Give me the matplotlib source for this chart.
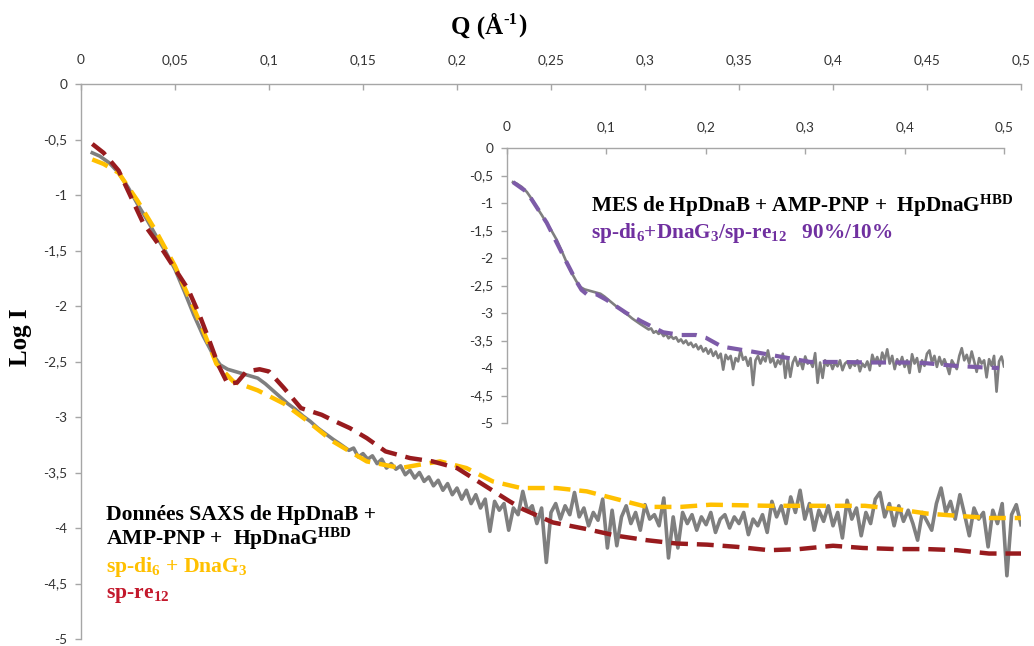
import numpy as np
import matplotlib
matplotlib.use("Agg")
import matplotlib.pyplot as plt
from matplotlib.ticker import FuncFormatter, MultipleLocator

plt.rcParams['mathtext.fontset'] = 'custom'
plt.rcParams['mathtext.rm'] = 'Liberation Serif:bold'
plt.rcParams['mathtext.bf'] = 'Liberation Serif:bold'
plt.rcParams['mathtext.it'] = 'Liberation Serif:bold:italic'

# ---------------- data ----------------
# SAXS data, smooth low-q part
q_low = [0.006, 0.010, 0.015, 0.020, 0.025, 0.030, 0.035, 0.040, 0.045, 0.050,
         0.055, 0.060, 0.065, 0.070, 0.074, 0.078, 0.082, 0.086, 0.090, 0.094,
         0.098, 0.102, 0.106, 0.110, 0.114, 0.118, 0.122, 0.126, 0.130, 0.134, 0.1375]
logI_low = [-0.62, -0.65, -0.71, -0.80, -0.93, -1.08, -1.22, -1.37, -1.51, -1.67,
            -1.87, -2.08, -2.27, -2.43, -2.53, -2.57, -2.59, -2.61, -2.63, -2.65,
            -2.70, -2.76, -2.82, -2.88, -2.93, -2.99, -3.04, -3.10, -3.15, -3.20, -3.24]
# SAXS data, noisy high-q part (q from 0.14 to 0.5, step 0.0025)
q_high_start, q_high_step = 0.14, 0.0025
logI_high = [-3.27, -3.30, -3.28, -3.36, -3.33, -3.38, -3.35, -3.42, -3.38, -3.46,
             -3.42, -3.47, -3.44, -3.52, -3.48, -3.55, -3.50, -3.58, -3.54, -3.62,
             -3.57, -3.66, -3.60, -3.70, -3.64, -3.74, -3.66, -3.78, -3.70, -3.82,
             -3.74, -4.03, -3.76, -3.84, -3.78, -4.02, -3.82, -3.88, -3.67, -3.85,
             -3.80, -3.96, -3.82, -4.31, -3.86, -3.78, -3.92, -3.80, -3.88, -3.68,
             -3.90, -3.82, -3.98, -3.86, -3.93, -3.74, -4.18, -3.84, -4.16, -3.90,
             -3.80, -3.96, -3.86, -4.02, -3.79, -3.92, -3.88, -3.98, -3.73, -4.27,
             -3.90, -4.18, -3.86, -3.96, -3.88, -4.02, -3.90, -3.97, -3.86, -4.04,
             -3.92, -3.88, -4.00, -3.90, -3.96, -3.86, -4.06, -3.92, -3.98, -3.88,
             -4.04, -3.76, -3.90, -3.80, -3.96, -3.72, -3.86, -3.66, -3.92, -3.78,
             -4.02, -3.84, -3.94, -3.80, -3.98, -3.86, -4.09, -3.75, -3.92, -3.82,
             -4.07, -3.86, -3.96, -3.74, -3.68, -3.90, -3.78, -3.98, -3.80, -3.94,
             -3.84, -3.96, -4.11, -3.86, -3.94, -4.02, -3.78, -3.64, -3.86, -3.76,
             -3.92, -3.70, -3.88, -4.07, -3.82, -3.92, -3.86, -4.17, -3.84, -3.96,
             -3.78, -4.43, -3.88, -3.79, -3.97]

# model sp-di6 + DnaG3 (yellow)
q_di6 = [0.006, 0.012, 0.020, 0.030, 0.040, 0.050, 0.060, 0.065, 0.072, 0.081,
         0.094, 0.108, 0.120, 0.134, 0.152, 0.170, 0.180, 0.191, 0.205, 0.219,
         0.234, 0.253, 0.269, 0.285, 0.301, 0.319, 0.335, 0.366, 0.400, 0.417,
         0.434, 0.450, 0.466, 0.483, 0.500]
logI_di6 = [-0.68, -0.72, -0.80, -1.05, -1.33, -1.64, -2.02, -2.22, -2.52, -2.68,
            -2.76, -2.88, -3.03, -3.22, -3.40, -3.46, -3.43, -3.40, -3.46, -3.58,
            -3.64, -3.64, -3.67, -3.74, -3.81, -3.81, -3.79, -3.80, -3.80, -3.80,
            -3.83, -3.87, -3.89, -3.91, -3.91]

# model sp-re12 (dark red)
q_re12 = [0.006, 0.012, 0.020, 0.033, 0.044, 0.057, 0.063, 0.068, 0.073, 0.078,
          0.083, 0.088, 0.095, 0.100, 0.108, 0.117, 0.128, 0.134, 0.143, 0.152,
          0.162, 0.175, 0.187, 0.200, 0.214, 0.228, 0.235, 0.251, 0.269, 0.285,
          0.301, 0.317, 0.333, 0.349, 0.366, 0.382, 0.400, 0.416, 0.434, 0.450,
          0.466, 0.483, 0.500]
logI_re12 = [-0.54, -0.62, -0.78, -1.25, -1.51, -1.85, -2.08, -2.30, -2.53, -2.70,
             -2.69, -2.59, -2.57, -2.59, -2.74, -2.92, -2.98, -3.03, -3.10, -3.19,
             -3.31, -3.37, -3.40, -3.46, -3.61, -3.76, -3.83, -3.95, -4.01, -4.07,
             -4.11, -4.14, -4.15, -4.17, -4.20, -4.19, -4.16, -4.18, -4.19, -4.19,
             -4.20, -4.23, -4.23]

# MES fit 90%/10% (purple, inset)
q_mes = [0.006, 0.020, 0.040, 0.060, 0.070, 0.075, 0.081, 0.090, 0.100, 0.120,
         0.135, 0.157, 0.175, 0.190, 0.200, 0.216, 0.246, 0.277, 0.305, 0.335,
         0.367, 0.400, 0.420, 0.450, 0.480, 0.495]
logI_mes = [-0.62, -0.80, -1.36, -2.08, -2.43, -2.58, -2.67, -2.66, -2.76, -3.00,
            -3.15, -3.35, -3.40, -3.40, -3.45, -3.61, -3.70, -3.80, -3.89, -3.89,
            -3.90, -3.90, -3.91, -3.96, -3.99, -4.00]

q_high = q_high_start + q_high_step * np.arange(len(logI_high))
q_data = np.concatenate([q_low, q_high])
logI_data = np.concatenate([logI_low, logI_high])

# ---------------- styles ----------------
GRAY = '#7F7F7F'
YEL = '#FFC000'
RED = '#981B1E'
RED_TXT = '#C3182B'
PUR_LINE = '#7D5BA8'
PUR_TXT = '#7030A0'
SPINE = '#A6A6A6'
TICKFONT = 'Lato'
SERIF = 'Liberation Serif'

W, H = 1034, 646
fig = plt.figure(figsize=(W / 100, H / 100), dpi=100)


def fmt(v, pos):
    if abs(v) < 1e-9:
        return '0'
    return ('%g' % v).replace('.', ',')


def style_axes(ax, xstep, fs, xpad, ypad):
    ax.set_xlim(0, 0.5)
    ax.set_ylim(-5, 0)
    for s in ['bottom', 'right']:
        ax.spines[s].set_visible(False)
    for s in ['top', 'left']:
        ax.spines[s].set_color(SPINE)
        ax.spines[s].set_linewidth(1.0)
    ax.xaxis.tick_top()
    ax.xaxis.set_major_locator(MultipleLocator(xstep))
    ax.yaxis.set_major_locator(MultipleLocator(0.5))
    ax.xaxis.set_major_formatter(FuncFormatter(fmt))
    ax.yaxis.set_major_formatter(FuncFormatter(fmt))
    ax.tick_params(axis='x', direction='in', length=4, width=1, color=SPINE,
                   pad=xpad, labelsize=fs, labelcolor='#333333')
    ax.tick_params(axis='y', direction='out', length=4, width=1, color=SPINE,
                   pad=ypad, labelsize=fs, labelcolor='#333333')
    for lab in ax.get_xticklabels() + ax.get_yticklabels():
        lab.set_fontfamily(TICKFONT)
    ax.patch.set_alpha(0)


# main axes
ax = fig.add_axes([81 / W, 1 - 639 / H, (1021 - 81) / W, (639 - 84) / H])
style_axes(ax, 0.05, 9.8, 13, 6)
ax.plot(q_data, logI_data, color=GRAY, lw=2.6, solid_joinstyle='round', zorder=2)
ax.plot(q_di6, logI_di6, color=YEL, lw=3.2, dashes=(3.8, 2.0), zorder=3)
ax.plot(q_re12, logI_re12, color=RED, lw=3.2, dashes=(3.8, 2.0), zorder=4)

# inset axes
axi = fig.add_axes([507 / W, 1 - 423 / H, (1004 - 507) / W, (423 - 148) / H])
style_axes(axi, 0.1, 9.8, 11, 6)
axi.plot(q_data, logI_data, color=GRAY, lw=1.9, solid_joinstyle='round', zorder=2)
axi.plot(q_mes, logI_mes, color=PUR_LINE, lw=3.0, dashes=(3.6, 2.2), zorder=3)

# titles
fig.text(503 / W, 1 - 26 / H, 'Q (Å', ha='right', va='center',
         family=SERIF, weight='bold', fontsize=18)
fig.text(503 / W, 1 - 20 / H, '-1', ha='left', va='center',
         family=SERIF, weight='bold', fontsize=12)
fig.text(518 / W, 1 - 26 / H, ')', ha='left', va='center',
         family=SERIF, weight='bold', fontsize=18)
fig.text(21 / W, 1 - 337 / H, 'Log I', ha='center', va='center', rotation=90,
         family=SERIF, weight='bold', fontsize=18)

# main annotations
tx = 106 / W
fs_ann = 15.6
fig.text(tx, 1 - 520 / H, 'Données SAXS de HpDnaB +', family=SERIF, weight='bold',
         fontsize=fs_ann, color='black', va='baseline')
fig.text(tx, 1 - 545 / H, r'AMP-PNP +  HpDnaG$^{\mathrm{HBD}}$', family=SERIF,
         weight='bold', fontsize=fs_ann, color='black', va='baseline')
fig.text(tx, 1 - 572 / H, r'sp-di$_{\mathrm{6}}$ + DnaG$_{\mathrm{3}}$', family=SERIF,
         weight='bold', fontsize=fs_ann, color=YEL, va='baseline')
fig.text(tx, 1 - 598 / H, r'sp-re$_{\mathrm{12}}$', family=SERIF,
         weight='bold', fontsize=fs_ann, color=RED_TXT, va='baseline')

# inset annotations
ix = 591 / W
fig.text(ix, 1 - 212 / H, r'MES de HpDnaB + AMP-PNP +  HpDnaG$^{\mathrm{HBD}}$',
         family=SERIF, weight='bold', fontsize=15.3, color='black', va='baseline')
fig.text(ix, 1 - 238 / H,
         r'sp-di$_{\mathrm{6}}$+DnaG$_{\mathrm{3}}$/sp-re$_{\mathrm{12}}$   90%/10%',
         family=SERIF, weight='bold', fontsize=15.3, color=PUR_TXT, va='baseline')

fig.savefig('out.png', dpi=100, facecolor='white')
